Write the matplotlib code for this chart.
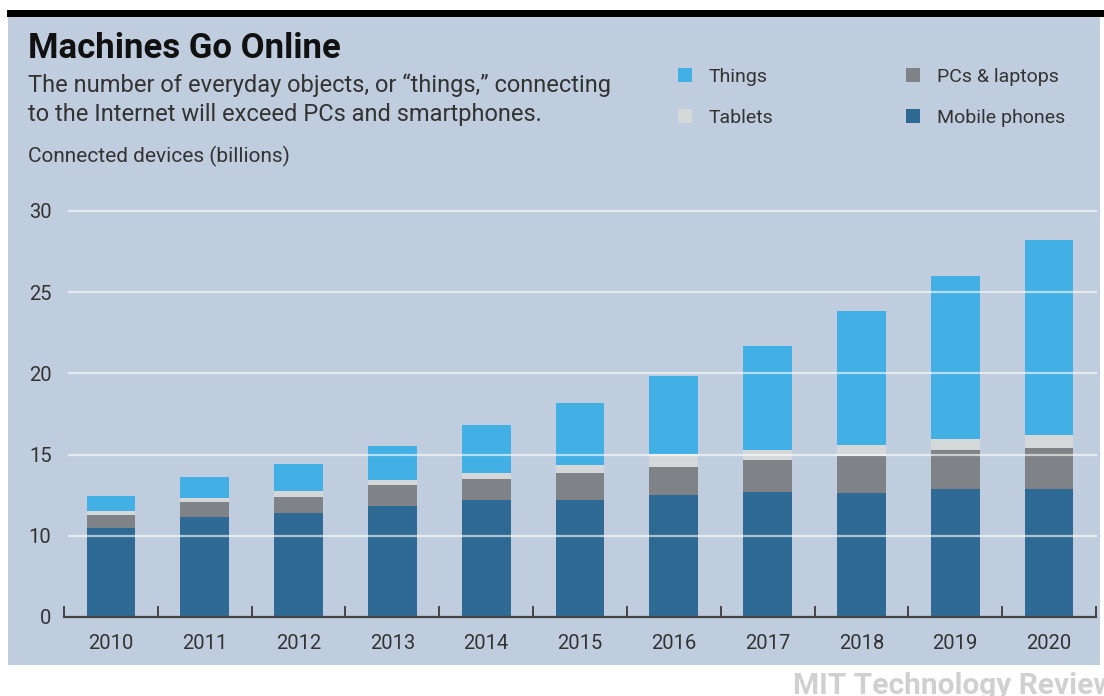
import numpy as np
import matplotlib
matplotlib.use('Agg')
import matplotlib.pyplot as plt
import matplotlib.patches as patches
from matplotlib.patches import Patch

plt.rcParams['font.family'] = ['Roboto', 'DejaVu Sans']

# data (billions of connected devices)
years = ['2010', '2011', '2012', '2013', '2014', '2015',
         '2016', '2017', '2018', '2019', '2020']
mobile = [10.47, 11.18, 11.43, 11.86, 12.22, 12.22, 12.49, 12.69, 12.61, 12.88, 12.88]
pcs = [0.82, 0.88, 0.98, 1.24, 1.27, 1.66, 1.75, 2.00, 2.33, 2.39, 2.53]
tablets = [0.24, 0.27, 0.37, 0.35, 0.39, 0.51, 0.78, 0.58, 0.65, 0.69, 0.77]
things = [0.94, 1.28, 1.65, 2.06, 2.92, 3.77, 4.80, 6.40, 8.25, 10.04, 12.02]
y_ticks = [0, 10, 15, 20, 25, 30]

c_bg = '#bfcdde'
c_text = '#333333'
c_things = '#42afe5'
c_tablets = '#d5d8d8'
c_pcs = '#7f8387'
c_mobile = '#2e6a93'


# 0-10 is squeezed to half height on the original chart
def fwd(v):
    v = np.asarray(v, dtype=float)
    return np.where(v < 10, v * 0.5, v - 5)


def inv(u):
    u = np.asarray(u, dtype=float)
    return np.where(u < 5, u * 2, u + 5)


fig = plt.figure(figsize=(11.04, 6.96), dpi=100)
W, H = 1104., 696.

# panel + black rule on top
fig.patches.append(patches.Rectangle((8/W, 1-665/H), 1092/W, 648/H,
                                     transform=fig.transFigure,
                                     facecolor=c_bg, edgecolor='none', zorder=-2))
fig.patches.append(patches.Rectangle((7/W, 1-17/H), 1097/W, 7/H,
                                     transform=fig.transFigure,
                                     facecolor='black', edgecolor='none', zorder=-1))

ax = fig.add_axes([64/W, 1-617/H, 1032/W, 406/H])
ax.set_zorder(2)
ax.set_facecolor('none')
ax.set_yscale('function', functions=(fwd, inv))

x = np.arange(len(years))
w = 0.52
b1 = np.array(mobile)
b2 = b1 + np.array(pcs)
b3 = b2 + np.array(tablets)
ax.bar(x, mobile, w, color=c_mobile, zorder=2)
ax.bar(x, pcs, w, bottom=b1, color=c_pcs, zorder=2)
ax.bar(x, tablets, w, bottom=b2, color=c_tablets, zorder=2)
ax.bar(x, things, w, bottom=b3, color=c_things, zorder=2)

for yv in y_ticks[1:]:
    ax.axhline(yv, xmin=0.005, xmax=1.0, color='white', alpha=0.6,
               lw=1.6, zorder=3, clip_on=False)

ax.set_xlim(-0.5, len(years) - 0.5)
ax.set_ylim(0, 30)
ax.set_yticks(y_ticks)
ax.set_yticklabels([str(t) for t in y_ticks])
ax.set_xticks(x)
ax.set_xticklabels(years)
ax.set_xticks(np.arange(len(years) + 1) - 0.5, minor=True)
ax.tick_params(axis='x', which='major', length=0, pad=12,
               labelsize=14.5, labelcolor=c_text)
ax.tick_params(axis='x', which='minor', direction='in', length=8,
               width=1.4, color='#444444')
ax.tick_params(axis='y', length=0, pad=9, labelsize=14.5, labelcolor=c_text)
ax.yaxis.set_minor_locator(matplotlib.ticker.NullLocator())

for s in ['top', 'right', 'left']:
    ax.spines[s].set_visible(False)
ax.spines['bottom'].set_color('#444444')
ax.spines['bottom'].set_linewidth(1.6)
ax.spines['bottom'].set_zorder(4)

# texts
fig.text(28/W, 1-48/H, 'Machines Go Online', fontsize=25, fontweight='bold',
         color='#111111', va='center', ha='left')
fig.text(28/W, 1-85/H,
         'The number of everyday objects, or \u201cthings,\u201d connecting',
         fontsize=17, color=c_text, va='center', ha='left')
fig.text(28/W, 1-115/H, 'to the Internet will exceed PCs and smartphones.',
         fontsize=17, color=c_text, va='center', ha='left')
fig.text(28/W, 1-156/H, 'Connected devices (billions)', fontsize=15,
         color=c_text, va='center', ha='left')
fig.text(793/W, 1-694/H, 'MIT Technology Review', fontsize=21.5,
         fontweight='bold', color='#d0d0d0', va='baseline', ha='left')

handles = [Patch(facecolor=c_things), Patch(facecolor=c_tablets),
           Patch(facecolor=c_pcs), Patch(facecolor=c_mobile)]
labels = ['Things', 'Tablets', 'PCs & laptops', 'Mobile phones']
fig.legend(handles, labels, ncol=2, frameon=False, fontsize=14,
           loc='upper left', bbox_to_anchor=(668/W, 1-58/H),
           handlelength=0.75, handleheight=0.75, handletextpad=0.85,
           columnspacing=6.8, labelspacing=1.2, labelcolor=c_text,
           borderpad=0)

fig.savefig('out.png', dpi=100)
